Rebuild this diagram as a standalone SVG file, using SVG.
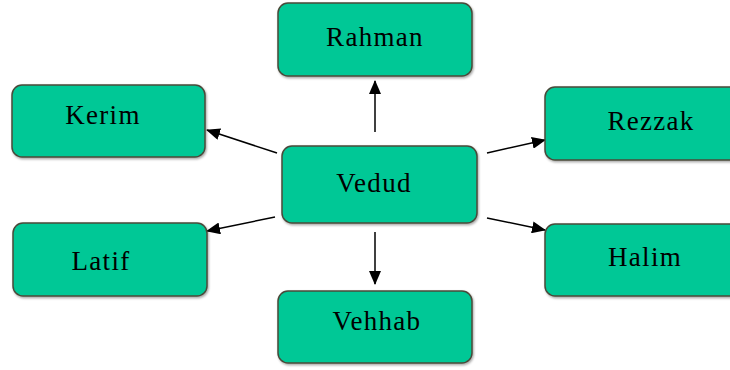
<svg xmlns="http://www.w3.org/2000/svg" width="730" height="370" viewBox="0 0 730 370">
<defs>
<marker id="ah" markerWidth="14" markerHeight="12" refX="13" refY="6" orient="auto" markerUnits="userSpaceOnUse">
<path d="M0,0 L14,6 L0,12 Z" fill="#000"/>
</marker>
<filter id="sh" x="-5%" y="-5%" width="110%" height="115%">
<feDropShadow dx="1" dy="1.5" stdDeviation="1" flood-color="#000" flood-opacity="0.35"/>
</filter>
</defs>
<style>
.box{fill:#00C896;stroke:#4a4a3a;stroke-width:1.5;filter:url(#sh)}
.lbl{font-family:"Liberation Serif","Times New Roman",serif;font-size:27px;fill:#000;text-anchor:middle;letter-spacing:1.3px}
.con{stroke:#000;stroke-width:1.5;fill:none;marker-end:url(#ah)}
</style>
<g id="connectors">
<line class="con" x1="375" y1="132" x2="375" y2="81"/>
<line class="con" x1="277" y1="153" x2="207" y2="130"/>
<line class="con" x1="487" y1="153" x2="545" y2="140"/>
<line class="con" x1="487" y1="218" x2="545" y2="230"/>
<line class="con" x1="275" y1="217" x2="207" y2="231"/>
<line class="con" x1="375" y1="232" x2="375" y2="284"/>
</g>
<g id="rahman"><rect class="box" x="278" y="3" width="194" height="73" rx="10"/><text class="lbl" x="375" y="46">Rahman</text></g>
<g id="kerim"><rect class="box" x="12" y="85" width="193" height="72" rx="10"/><text class="lbl" x="103" y="124">Kerim</text></g>
<g id="vedud"><rect class="box" x="282" y="146" width="195" height="77" rx="10"/><text class="lbl" x="374" y="192">Vedud</text></g>
<g id="rezzak"><rect class="box" x="545" y="87" width="200" height="73" rx="10"/><text class="lbl" x="651" y="130">Rezzak</text></g>
<g id="halim"><rect class="box" x="545" y="224" width="200" height="72" rx="10"/><text class="lbl" x="645" y="266">Halim</text></g>
<g id="latif"><rect class="box" x="13" y="223" width="194" height="73" rx="10"/><text class="lbl" x="101" y="270">Latif</text></g>
<g id="vehhab"><rect class="box" x="278" y="291" width="194" height="72" rx="10"/><text class="lbl" x="377" y="330">Vehhab</text></g>
</svg>
